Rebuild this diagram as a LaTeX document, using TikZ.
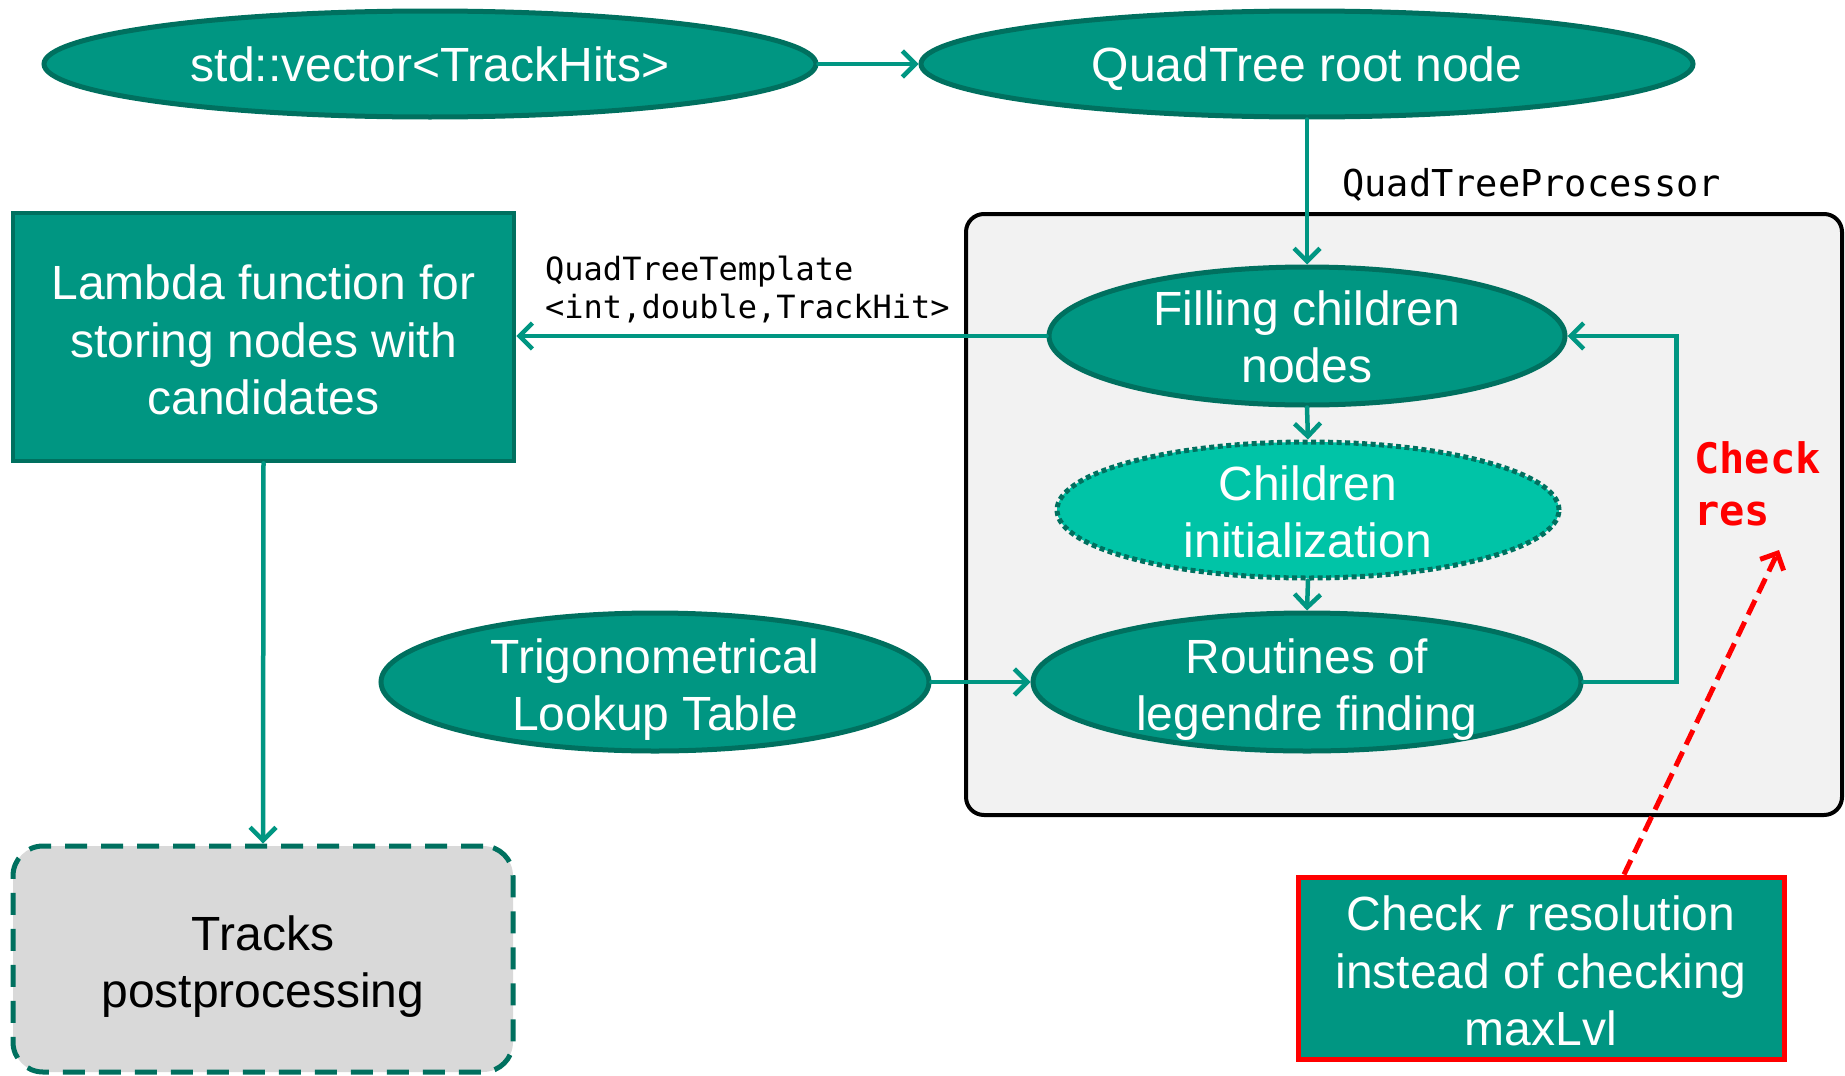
\documentclass[tikz,border=0pt]{standalone}
\usepackage{fontspec}
\setmainfont{Liberation Sans}
\newfontfamily\codefont{DejaVu Sans Mono}
\usetikzlibrary{shapes.geometric,arrows.meta}
\definecolor{tealA}{RGB}{0,150,130}
\definecolor{tealD}{RGB}{0,112,95}
\definecolor{tealL}{RGB}{0,196,167}
\definecolor{procgray}{RGB}{242,242,242}
\definecolor{trkgray}{RGB}{217,217,217}
\definecolor{redC}{RGB}{255,0,0}
\begin{document}
\begin{tikzpicture}[x=1pt,y=-1pt,
  ell/.style={ellipse, draw=tealD, line width=5pt, fill=tealA, inner sep=0pt},
  etext/.style={text=white, align=center, inner sep=0pt, font=\fontsize{48}{57}\selectfont},
  conn/.style={draw=tealA, line width=4.5pt, line cap=round, -{Straight Barb[length=13pt,width=26pt]}},
  redconn/.style={draw=redC, line width=5pt, dash pattern=on 16pt off 8pt, -{Straight Barb[length=13pt,width=26pt]}},
  codelabel/.style={anchor=west, align=left, inner sep=0pt, text=black}
]
\useasboundingbox (0,0) rectangle (1845,1076);

% container
\node[draw=black, line width=4pt, fill=procgray, rounded corners=18pt,
      minimum width=876pt, minimum height=601pt, inner sep=0pt] (proc) at (1404,514.5) {};

% top ellipses
\node[ell, minimum width=772pt, minimum height=106pt] (vec) at (430,64) {};
\node[etext] (vecT) at (430,64) {std::vector<TrackHits>};
\node[ell, minimum width=772pt, minimum height=106pt] (root) at (1307,64) {};
\node[etext] (rootT) at (1307,69) {QuadTree root node};

% inner ellipses
\node[ell, minimum width=516pt, minimum height=138pt] (fill) at (1307,336) {};
\node[etext] (fillT) at (1307,337) {Filling children\\nodes};
\node[ellipse, draw=tealD, line width=5pt, dash pattern=on 5pt off 3.5pt, fill=tealL, inner sep=0pt,
      minimum width=502pt, minimum height=136pt] (init) at (1308,510) {};
\node[etext] (initT) at (1308,512) {Children\\initialization};
\node[ell, minimum width=548pt, minimum height=138pt] (rout) at (1307,682) {};
\node[etext] (routT) at (1307,690) {Routines of\\legendre finding};
\node[ell, minimum width=548pt, minimum height=138pt] (trig) at (655,682) {};
\node[etext] (trigT) at (655,690) {Trigonometrical\\Lookup Table};

% rectangles
\node[draw=tealD, line width=4.5pt, fill=tealA, minimum width=501pt, minimum height=248pt,
      inner sep=0pt] (lam) at (263.5,337) {};
\node[text=white, align=center, inner sep=0pt, font=\fontsize{48}{57.5}\selectfont] (lamT) at (263.5,340)
      {Lambda function for\\storing nodes with\\candidates};
\node[draw=tealD, line width=5pt, dash pattern=on 22pt off 14pt, fill=trkgray, rounded corners=30pt,
      minimum width=500pt, minimum height=226pt, inner sep=0pt] (trk) at (263,959) {};
\node[text=black, align=center, inner sep=0pt, font=\fontsize{48}{57}\selectfont] (trkT) at (263,967)
      {Tracks\\postprocessing};
\node[draw=redC, line width=5pt, fill=tealA, minimum width=486pt, minimum height=182pt,
      inner sep=0pt] (chk) at (1541,968) {};
\node[text=white, align=center, inner sep=0pt, font=\fontsize{48}{57.5}\selectfont] (chkT) at (1541,971)
      {Check \textit{r} resolution\\instead of checking\\maxLvl};

% labels
\node[codelabel, font=\codefont\fontsize{37}{40}\selectfont] (procL) at (1342,185) {QuadTreeProcessor};
\node[codelabel, font=\codefont\fontsize{32}{38}\selectfont] (tmplL) at (545,289) {QuadTreeTemplate\\<int,double,TrackHit>};
\node[codelabel, text=redC, font=\codefont\bfseries\fontsize{42}{52}\selectfont] (resL) at (1694,484) {Check\\res};
\coordinate (resTip) at (1779,550);

% connectors
\draw[conn] (vec.east) -- (root.west);
\draw[conn] (root.south) -- (fill.north);
\draw[conn] (fill.south) -- (init.north);
\draw[conn] (init.south) -- (rout.north);
\draw[conn] (trig.east) -- (rout.west);
\draw[conn] (fill.west) -- (fill.west -| lam.east);
\draw[conn] (rout.east) -- ++(93,0) |- (fill.east);
\draw[conn] (lam.south) -- (trk.north);
\draw[redconn] ([xshift=83pt]chk.north) -- (resTip);
\end{tikzpicture}
\end{document}
